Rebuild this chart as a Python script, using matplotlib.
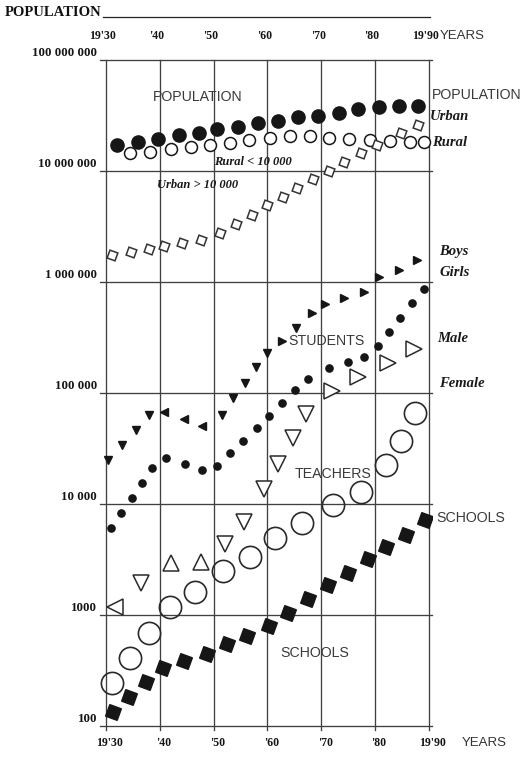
import matplotlib
matplotlib.use("Agg")
import matplotlib.pyplot as plt
import matplotlib.transforms as mtransforms
from matplotlib.lines import Line2D

# ---------------- data ----------------
decade_years = [1930, 1940, 1950, 1960, 1970, 1980, 1990]
top_tick_labels = ["19'30", "'40", "'50", "'60", "'70", "'80", "19'90"]
bottom_tick_labels = ["19'30", "'40", "'50", "'60", "'70", "'80", "19'90"]
y_ticks = [100, 1000, 10000, 100000, 1000000, 10000000, 100000000]
y_tick_labels = ["100", "1000", "10 000", "100 000", "1 000 000", "10 000 000", "100 000 000"]

# Population total (filled circles)
pop_years = [1932.1, 1936.0, 1939.7, 1943.5, 1947.2, 1950.7, 1954.5, 1958.2,
             1962.0, 1965.7, 1969.3, 1973.2, 1976.9, 1980.7, 1984.4, 1987.9]
pop_total = [17.1e6, 18.2e6, 19.4e6, 21.1e6, 22.0e6, 23.9e6, 24.9e6, 27.1e6,
             28.2e6, 30.6e6, 31.3e6, 33.3e6, 36.2e6, 37.8e6, 38.5e6, 38.5e6]

# Rural < 10 000 (open circles)
rural_years = [1934.5, 1938.2, 1942.0, 1945.7, 1949.3, 1953.0, 1956.5, 1960.5,
               1964.2, 1967.9, 1971.5, 1975.2, 1979.0, 1982.7, 1986.4, 1989.1]
rural_pop = [14.5e6, 14.8e6, 15.8e6, 16.4e6, 17.1e6, 17.9e6, 19.0e6, 19.8e6,
             20.7e6, 20.7e6, 19.8e6, 19.4e6, 19.0e6, 18.6e6, 18.2e6, 18.2e6]

# Urban > 10 000 (open squares)
urban_years = [1931.1, 1934.7, 1937.9, 1940.8, 1944.2, 1947.6, 1951.1, 1954.1,
               1957.1, 1959.9, 1962.9, 1965.5, 1968.5, 1971.5, 1974.3, 1977.3,
               1980.3, 1984.8, 1987.9]
urban_pop = [1.75e6, 1.86e6, 1.98e6, 2.11e6, 2.24e6, 2.39e6, 2.76e6, 3.33e6,
             4.02e6, 4.94e6, 5.83e6, 7.03e6, 8.48e6, 10.0e6, 12.1e6, 14.5e6,
             17.1e6, 22.0e6, 25.9e6]

# Students: boys (small filled triangles)
boys_years = [1930.4, 1933.0, 1935.6, 1937.9, 1940.7, 1944.4, 1947.9, 1951.5,
              1953.6, 1955.8, 1957.9, 1959.9, 1962.7, 1965.3, 1968.3, 1970.7,
              1974.3, 1977.9, 1980.8, 1984.4, 1987.8]
boys = [24900, 34000, 46400, 63400, 67400, 58300, 50400, 63400,
        90100, 123000, 171000, 229000, 294000, 385000, 526000, 634000,
        718000, 813000, 1110000, 1282000, 1578000]
boys_dir = ["v", "v", "v", "v", "<", "<", "<", "v", "v", "v", "v", "v",
            ">", "v", ">", ">", ">", ">", ">", ">", ">"]

# Students: girls (small filled dots)
girls_years = [1930.9, 1932.8, 1934.9, 1936.7, 1938.6, 1941.2, 1944.6, 1947.8,
               1950.6, 1953.0, 1955.4, 1958.0, 1960.3, 1962.7, 1965.1, 1967.6,
               1971.5, 1974.9, 1978.0, 1980.5, 1982.5, 1984.6, 1986.8, 1989.1]
girls = [6080, 8300, 11300, 15400, 21100, 25900, 22900, 20200,
         22000, 28800, 37000, 48400, 62100, 81300, 106000, 134000,
         168000, 190000, 211000, 265000, 355000, 474000, 647000, 865000]

# Teachers: male (open triangles)
tmale_years = [1931.7, 1936.5, 1942.1, 1947.6, 1952.1, 1955.6, 1959.3,
               1962.0, 1964.8, 1967.2, 1971.9, 1976.9, 1982.3, 1987.2]
tmale = [1180, 1940, 2940, 3000, 4360, 6890, 13600,
         22900, 39300, 64700, 104000, 139000, 186000, 249000]
tmale_dir = ["<", "v", "^", "^", "v", "v", "v", "v", "v", "v", ">", ">", ">", ">"]

# Teachers: female (big open circles)
tfem_years = [1931.1, 1934.5, 1937.9, 1941.8, 1946.6, 1951.7, 1956.7,
              1961.4, 1966.4, 1972.1, 1977.3, 1982.0, 1984.8, 1987.4]
tfem = [244, 410, 689, 1180, 1610, 2490, 3330,
        4940, 6740, 9800, 12800, 22500, 37000, 66100]

# Schools (filled squares)
school_years = [1931.3, 1934.3, 1937.5, 1940.5, 1944.4, 1948.7, 1952.4, 1956.2,
                1960.3, 1963.8, 1967.6, 1971.3, 1975.0, 1978.6, 1982.1, 1985.7,
                1989.3]
schools = [134, 182, 249, 333, 385, 446, 548, 647,
           796, 1040, 1390, 1860, 2390, 3200, 4100, 5260, 7180]

# ---------------- figure ----------------
W, H = 529, 761
fig = plt.figure(figsize=(W / 100, H / 100), dpi=100)
fig.patch.set_facecolor("white")

# axes: 1930 -> px 106, 1990 -> px 429 ; 1e8 -> py 60, 100 -> py 726
ppy = (429 - 106) / 60.0
x0, x1 = 1928.9, 1990.5
left_px = 106 + (x0 - 1930) * ppy
right_px = 106 + (x1 - 1930) * ppy
ylo_exp = 1.96
bottom_px = 726 + (2 - ylo_exp) * 111
ax = fig.add_axes([left_px / W, 1 - bottom_px / H,
                   (right_px - left_px) / W, (bottom_px - 60) / H])
ax.set_xlim(x0, x1)
ax.set_yscale("log")
ax.set_ylim(10 ** ylo_exp, 1e8)
ax.set_xticks([])
ax.set_yticks([])
ax.minorticks_off()
for s in ax.spines.values():
    s.set_visible(False)

grid_c = "#404040"
for yv in y_ticks:
    ax.axhline(yv, color=grid_c, lw=0.95, clip_on=False, zorder=1)
for xv in decade_years:
    ax.axvline(xv, ymax=1.0, color=grid_c, lw=0.95, clip_on=False, zorder=1)

ink = "#161616"

# population
ax.plot(pop_years, pop_total, ls="none", marker="o", ms=9.5, mfc=ink, mec=ink, zorder=3)
ax.plot(rural_years, rural_pop, ls="none", marker="o", ms=8.6, mfc="white",
        mec=ink, mew=1.1, zorder=4)
ax.plot(urban_years, urban_pop, ls="none", marker=(4, 0, 25), ms=8.5, mfc="white",
        mec="#333333", mew=1.1, zorder=4)

# students
for xv, yv, d in zip(boys_years, boys, boys_dir):
    ax.plot([xv], [yv], ls="none", marker=d, ms=6.2, mfc=ink, mec=ink, zorder=3)
ax.plot(girls_years, girls, ls="none", marker="o", ms=5.2, mfc=ink, mec=ink, zorder=3)

# teachers
for xv, yv, d in zip(tmale_years, tmale, tmale_dir):
    ax.plot([xv], [yv], ls="none", marker=d, ms=11, mfc="white", mec="#2a2a2a",
            mew=1.1, zorder=3)
ax.plot(tfem_years, tfem, ls="none", marker="o", ms=16, mfc="none", mec="#2a2a2a",
        mew=1.2, zorder=3)

# schools
ax.plot(school_years, schools, ls="none", marker=(4, 0, 25), ms=12.5, mfc=ink,
        mec=ink, zorder=3)

# ---------------- text ----------------
SERIF = "Liberation Serif"
SANS = "Liberation Sans"


def ftext(xp, yp, s, **kw):
    kw.setdefault("va", "center")
    kw.setdefault("ha", "left")
    return fig.text(xp / W, 1 - yp / H, s, **kw)


ftext(5, 12, "POPULATION", family=SERIF, weight="bold", size=10.5, color="#111111")
fig.add_artist(Line2D([103 / W, 430 / W], [1 - 17 / H, 1 - 17 / H],
                      color="#222222", lw=0.9))

# x tick labels (top and bottom)
top_tr = mtransforms.offset_copy(
    mtransforms.blended_transform_factory(ax.transData, fig.transFigure),
    fig=fig, x=-3, y=0, units="dots")
bot_tr = mtransforms.offset_copy(
    mtransforms.blended_transform_factory(ax.transData, fig.transFigure),
    fig=fig, x=4, y=0, units="dots")
for xv, lab in zip(decade_years, top_tick_labels):
    ax.text(xv, 1 - 36 / H, lab, transform=top_tr, ha="center", va="center",
            family=SERIF, weight="bold", size=8.5, color="#151515")
for xv, lab in zip(decade_years, bottom_tick_labels):
    ax.text(xv, 1 - 743 / H, lab, transform=bot_tr, ha="center", va="center",
            family=SERIF, weight="bold", size=8.5, color="#151515")
ftext(440, 36, "YEARS", family=SANS, size=9.5, color="#333333")
ftext(462, 743, "YEARS", family=SANS, size=9.5, color="#333333")

# y tick labels
y_tr = mtransforms.offset_copy(
    mtransforms.blended_transform_factory(fig.transFigure, ax.transData),
    fig=fig, x=0, y=7, units="dots")
for yv, lab in zip(y_ticks, y_tick_labels):
    ax.text(97 / W, yv, lab, transform=y_tr, ha="right", va="center",
            family=SERIF, weight="bold", size=9.3, color="#151515")

# in-chart labels
sans_kw = dict(family=SANS, size=10.2, color="#3a3a3a")
ital_kw = dict(family=SERIF, weight="bold", style="italic", size=10.5, color="#1a1a1a")
ftext(153, 97, "POPULATION", **sans_kw)
ftext(432, 95, "POPULATION", **sans_kw)
ftext(430, 117, "Urban", **ital_kw)
ftext(432, 142, "Rural", **ital_kw)
ftext(214, 162, "Rural < 10 000", family=SERIF, weight="bold", style="italic",
      size=9, color="#1a1a1a")
ftext(157, 185, "Urban > 10 000", family=SERIF, weight="bold", style="italic",
      size=9, color="#1a1a1a")
ftext(439, 251, "Boys", **ital_kw)
ftext(439, 273, "Girls", **ital_kw)
ftext(288, 341, "STUDENTS", **sans_kw)
ftext(437, 339, "Male", **ital_kw)
ftext(439, 384, "Female", **ital_kw)
ftext(295, 474, "TEACHERS", **sans_kw)
ftext(436, 518, "SCHOOLS", **sans_kw)
ftext(280, 653, "SCHOOLS", **sans_kw)

fig.savefig("out.png", dpi=100, facecolor="white")
